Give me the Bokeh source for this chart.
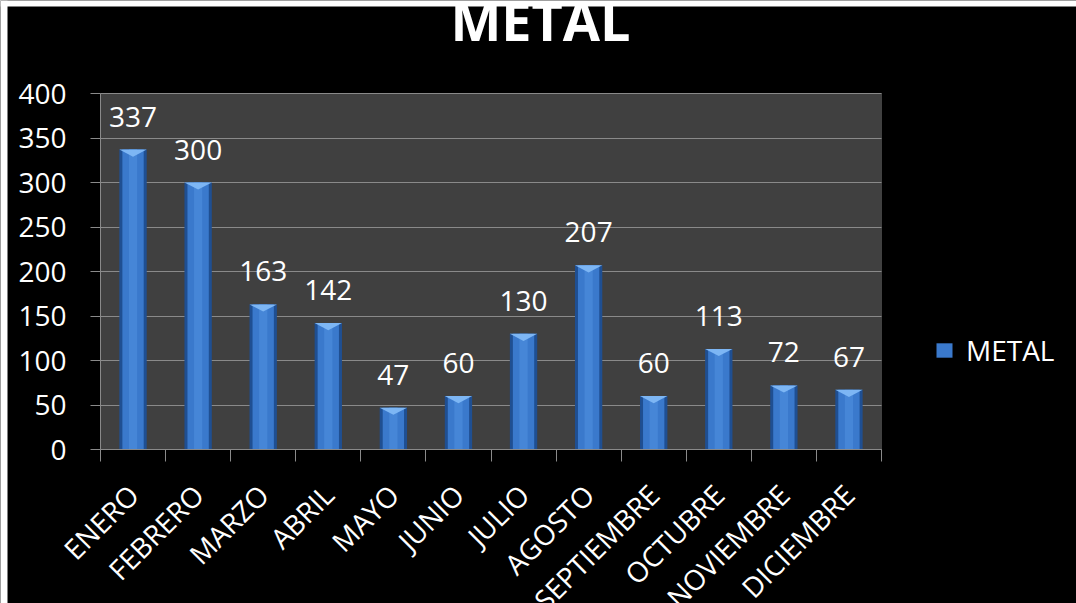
import math
from bokeh.plotting import figure
from bokeh.models import (ColumnDataSource, Range1d, FixedTicker, LabelSet, Label,
                          Legend, LegendItem, CustomJSTickFormatter, BoxAnnotation)
from bokeh.core.properties import value
from bokeh.embed import file_html
from bokeh.resources import INLINE

months = ["ENERO", "FEBRERO", "MARZO", "ABRIL", "MAYO", "JUNIO", "JULIO",
          "AGOSTO", "SEPTIEMBRE", "OCTUBRE", "NOVIEMBRE", "DICIEMBRE"]
values = [337, 300, 163, 142, 47, 60, 130, 207, 60, 113, 72, 67]
y_ticks = [0, 50, 100, 150, 200, 250, 300, 350, 400]
series_name = "METAL"
title_text = "METAL"

FONT = "Open Sans"
n = len(months)
Y_MAX = 400

# layout geometry (pixels in the picture)
W, H = 1076, 603
PA_L, PA_R, PA_T, PA_B = 100, 881, 93, 449
xpu = (PA_R - PA_L) / n
ypu = (PA_B - PA_T) / Y_MAX
x_start = -PA_L / xpu
x_end = n + (W - PA_R) / xpu
y_start = -(H - PA_B) / ypu
y_end = Y_MAX + PA_T / ypu


def px_x(page_x):
    return (page_x - PA_L) / xpu


def px_y(page_y):
    return (PA_B - page_y) / ypu


xs = [i + 0.5 for i in range(n)]
bar_w = 0.42
tri_d = 8

src = ColumnDataSource(dict(
    x=xs, top=values, label=[str(v) for v in values],
))
tri_xs = [[x - bar_w / 2, x + bar_w / 2, x] for x in xs]
tri_ys = [[v, v, v - tri_d] for v in values]

p = figure(width=W, height=H, output_backend="svg", toolbar_location=None,
           x_range=Range1d(x_start, x_end), y_range=Range1d(y_start, y_end),
           min_border=0)
p.title.text = ""
p.background_fill_color = "black"
p.border_fill_color = "black"
p.outline_line_color = None

# plot area
p.add_layout(BoxAnnotation(left=0, right=n, bottom=0, top=Y_MAX, fill_color="#404040",
                           fill_alpha=1, line_color="#8a8a8a", line_width=1, level="image"))

rim = p.vbar(x="x", top="top", width=bar_w, source=src, fill_color="#1f4f92", line_color=None)
body = p.vbar(x="x", top="top", width=bar_w * 0.78, source=src, fill_color="#3a79cc", line_color=None)
p.vbar(x="x", top="top", width=bar_w * 0.3, source=src, fill_color="#4a8ad9", line_color=None, fill_alpha=0.8)
p.patches(tri_xs, tri_ys, fill_color="#7db6f4", line_color=None)

# grid
p.xgrid.visible = False
p.ygrid.ticker = FixedTicker(ticks=y_ticks)
p.ygrid.cross_bounds = (0, n)
p.ygrid.grid_line_color = "#8a8a8a"
p.ygrid.grid_line_width = 1

# y axis
ya = p.yaxis[0]
ya.fixed_location = 0
ya.bounds = (0, Y_MAX)
ya.ticker = FixedTicker(ticks=y_ticks)
ya.axis_line_color = "#8a8a8a"
ya.major_tick_line_color = "#8a8a8a"
ya.major_tick_out = 10
ya.major_tick_in = 0
ya.minor_tick_line_color = None
ya.major_label_text_color = "white"
ya.major_label_text_font = FONT
ya.major_label_text_font_size = "28px"
ya.major_label_standoff = 24

# x axis: labels at category centres, ticks at category boundaries
xa = p.xaxis[0]
xa.fixed_location = 0
xa.bounds = (0, n)
xa.ticker = FixedTicker(ticks=xs, minor_ticks=list(range(n + 1)))
xa.formatter = CustomJSTickFormatter(args=dict(names=months),
                                     code="return names[Math.floor(tick)]")
xa.axis_line_color = "#8a8a8a"
xa.major_tick_line_color = None
xa.major_tick_out = 0
xa.major_tick_in = 0
xa.minor_tick_line_color = "#8a8a8a"
xa.minor_tick_out = 12
xa.minor_tick_in = 0
xa.major_label_orientation = math.pi / 4
xa.major_label_standoff = 28
xa.major_label_text_color = "white"
xa.major_label_text_font = FONT
xa.major_label_text_font_size = "28px"

# value labels
p.add_layout(LabelSet(x="x", y="top", text="label", source=src, text_align="center",
                      text_baseline="bottom", y_offset=23, text_color="white",
                      text_font=value(FONT), text_font_size="28px"))

# title
p.add_layout(Label(x=px_x(540), y=px_y(19), text=title_text, text_align="center",
                   text_baseline="alphabetic", text_color="white", text_font=FONT,
                   text_font_style="bold", text_font_size="54px"))

legend = Legend(items=[LegendItem(label=series_name, renderers=[body])],
                location=(934, 234), background_fill_alpha=0, border_line_color=None,
                label_text_color="white", label_text_font=FONT, label_text_font_size="28px",
                glyph_width=20, glyph_height=18, label_standoff=12, padding=8, margin=0)
p.add_layout(legend, "center")

# white picture border (left and top edges of the reference)
p.add_layout(BoxAnnotation(left=x_start, right=px_x(7), bottom=y_start, top=y_end,
                           fill_color="white", fill_alpha=1, line_color=None, level="overlay"))
p.add_layout(BoxAnnotation(left=x_start, right=x_end, bottom=px_y(6), top=y_end,
                           fill_color="white", fill_alpha=1, line_color=None, level="overlay"))

open("out.html", "w").write(file_html(p, INLINE))
